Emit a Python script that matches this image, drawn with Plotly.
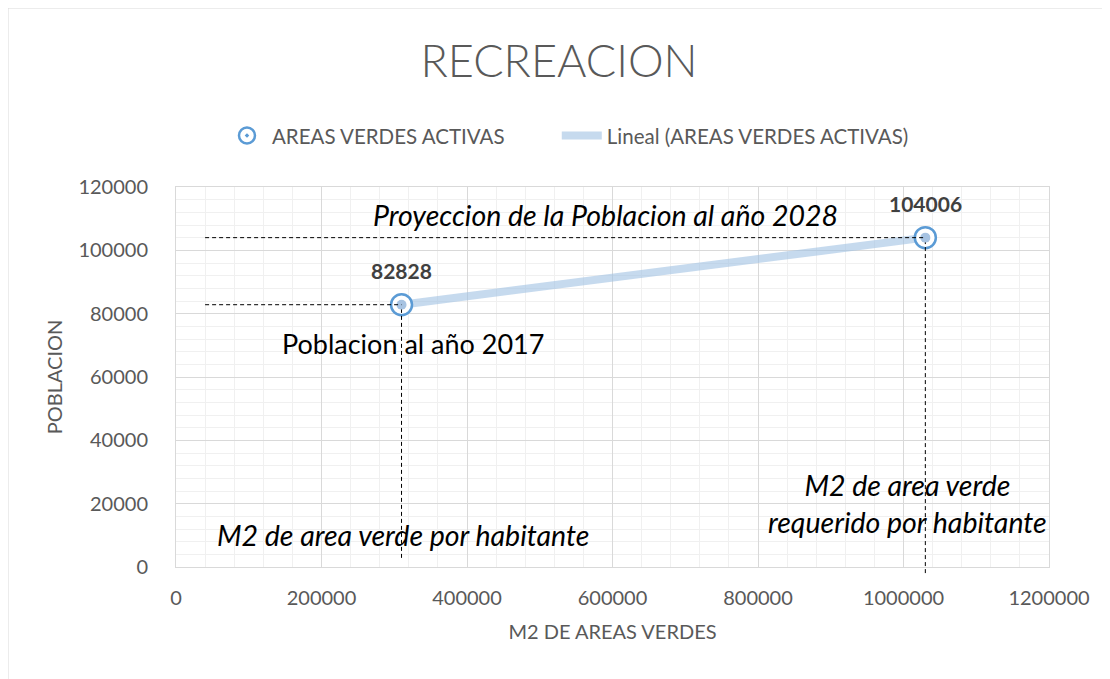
import numpy as np
import plotly.graph_objects as go

# data
x_m2 = [310000, 1030000]          # M2 de areas verdes
poblacion = [82828, 104006]       # poblacion 2017 / 2028
etiquetas = ["82828", "104006"]

serie = "AREAS VERDES ACTIVAS"
FONT = "Lato"
GRIS = "#595959"

# linear trend (Excel "Lineal")
m, b = np.polyfit(x_m2, poblacion, 1)
x_tr = np.array([min(x_m2), max(x_m2)])
y_tr = m * x_tr + b

fig = go.Figure()

fig.add_trace(go.Scatter(
    x=x_tr, y=y_tr, mode="lines", name="Lineal (" + serie + ")",
    line=dict(color="rgba(160,193,226,0.6)", width=8),
))
fig.add_trace(go.Scatter(
    x=x_m2, y=poblacion, mode="markers", name=serie + "\u00a0" * 9,
    marker=dict(symbol="circle-dot", size=21, color="white",
                line=dict(color="#5b9bd5", width=2.5)),
))
# inner light dot
fig.add_trace(go.Scatter(
    x=x_m2, y=poblacion, mode="markers", showlegend=False, hoverinfo="skip",
    marker=dict(symbol="circle", size=10, color="#a7c3e2"),
))

# dashed guide lines
for xv, yv, ybot in zip(x_m2, poblacion, [0.024, -0.016]):
    fig.add_shape(type="line", xref="x", yref="y", x0=40000, x1=xv, y0=yv, y1=yv,
                  line=dict(color="black", width=1, dash="4px,3px"))
    fig.add_shape(type="line", xref="x", yref="paper", x0=xv, x1=xv,
                  y0=ybot, y1=(yv - 1500) / 120000,
                  line=dict(color="black", width=1, dash="4px,3px"))

# data labels
for xv, yv, t in zip(x_m2, poblacion, etiquetas):
    fig.add_annotation(x=xv, y=yv, text="<b>" + t + "</b>", showarrow=False,
                       yshift=34, font=dict(family=FONT, size=21, color="#404040"))

txt = dict(family=FONT, size=27, color="black")
itx = dict(family=FONT, size=28.5, color="black")
fig.add_annotation(x=590000, y=111200, text="<i>Proyeccion de la Poblacion al año 2028</i>",
                   showarrow=False, font=itx)
fig.add_annotation(x=326000, y=70700, text="Poblacion al año 2017", showarrow=False, font=txt)
fig.add_annotation(x=312000, y=10100, text="<i>M2 de area verde por habitante</i>",
                   showarrow=False, font=itx)
fig.add_annotation(x=1005000, y=20200,
                   text="<i>M2 de area verde<br>requerido por habitante</i>",
                   showarrow=False, font=itx)

# chart area border
fig.add_shape(type="rect", xref="paper", yref="paper", x0=-168 / 873, x1=1.3, y0=-0.5,
              y1=1 + 179 / 380, line=dict(color="#d9d9d9", width=1), layer="below")

grid = dict(showgrid=True, gridcolor="#d9d9d9", gridwidth=1,
            minor=dict(showgrid=True, gridcolor="#f0f0f0", gridwidth=1),
            zeroline=False, showline=True, linecolor="#d9d9d9",
            tickfont=dict(family=FONT, size=20, color=GRIS), ticks="",
            tickformat="d", automargin=False)

fig.update_xaxes(range=[0, 1200000], dtick=200000, minor_dtick=40000,
                 title=dict(text="M2 DE AREAS VERDES", font=dict(family=FONT, size=20, color=GRIS),
                            standoff=16),
                 ticklabelstandoff=13, mirror=True, **grid)
fig.update_yaxes(range=[0, 120000], dtick=20000, minor_dtick=4000,
                 title=dict(text="POBLACION", font=dict(family=FONT, size=20, color=GRIS),
                            standoff=10),
                 ticklabelstandoff=23, mirror=True, **grid)

fig.update_layout(
    width=1102, height=671,
    margin=dict(l=168, r=61, t=179, b=112, autoexpand=False),
    paper_bgcolor="white", plot_bgcolor="white",
    title=dict(text="RECREACION", x=0.5, xanchor="center", y=0.92, yanchor="middle",
               font=dict(family=FONT, size=45, color=GRIS, weight=300)),
    legend=dict(orientation="h", x=0.449, xanchor="center", y=1.135, yanchor="middle",
                font=dict(family=FONT, size=20.5, color=GRIS), traceorder="reversed",
                itemwidth=40),
    showlegend=True,
)

fig.write_html("out.html")
